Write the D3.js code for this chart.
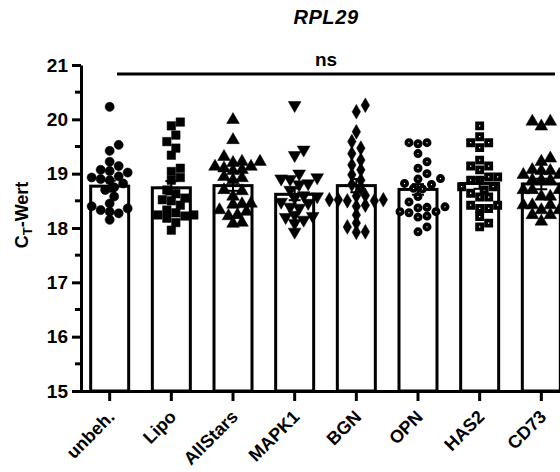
<!DOCTYPE html>
<html>
<head>
<meta charset="utf-8">
<script src="https://cdn.jsdelivr.net/npm/d3@7"></script>
<style>
  body { margin: 0; background: #fff; }
  svg { font-family: "Liberation Sans", Arial, sans-serif; }
</style>
</head>
<body>
<svg id="chart" width="560" height="472"></svg>
<script>
// categories and bar heights (means)
const groups = ["unbeh.", "Lipo", "AllStars", "MAPK1", "BGN", "OPN", "HAS2", "CD73"];
const means = [18.77, 18.74, 18.78, 18.62, 18.78, 18.71, 18.82, 18.81];

// individual Ct values per group
const unbeh = [20.23, 19.53, 19.42, 19.22, 19.14, 19.07, 19.05, 19.02, 18.95, 18.93, 18.9, 18.88, 18.82, 18.75, 18.7, 18.58, 18.45, 18.4, 18.36, 18.33, 18.3, 18.27, 18.15];
const lipo = [19.95, 19.88, 19.71, 19.59, 19.47, 19.34, 19.1, 19.04, 18.93, 18.88, 18.7, 18.63, 18.55, 18.52, 18.5, 18.42, 18.33, 18.28, 18.24, 18.24, 18.22, 18.18, 18.1, 17.96];
const allStars = [19.99, 19.62, 19.31, 19.22, 19.22, 19.2, 19.13, 19.13, 19.1, 19.07, 19.05, 18.94, 18.92, 18.88, 18.7, 18.68, 18.58, 18.45, 18.44, 18.43, 18.33, 18.3, 18.24, 18.22, 18.1, 18.08];
const mapk1 = [20.26, 19.44, 19.34, 19.0, 18.93, 18.91, 18.9, 18.82, 18.8, 18.7, 18.6, 18.58, 18.56, 18.48, 18.46, 18.39, 18.37, 18.24, 18.22, 18.2, 18.15, 18.09, 17.93];
const bgn = [20.26, 20.14, 19.77, 19.59, 19.47, 19.37, 19.25, 19.16, 19.07, 18.98, 18.88, 18.8, 18.73, 18.6, 18.59, 18.52, 18.52, 18.52, 18.5, 18.5, 18.42, 18.4, 18.24, 18.09, 18.02, 17.93, 17.92];
const opn = [19.57, 19.57, 19.55, 19.37, 19.22, 19.1, 19.0, 18.91, 18.9, 18.82, 18.8, 18.73, 18.72, 18.58, 18.48, 18.39, 18.38, 18.37, 18.3, 18.3, 18.28, 18.22, 18.2, 18.02, 17.93];
const has2 = [19.88, 19.68, 19.57, 19.57, 19.48, 19.25, 19.14, 19.14, 19.07, 18.94, 18.94, 18.88, 18.88, 18.76, 18.76, 18.7, 18.64, 18.57, 18.57, 18.42, 18.42, 18.36, 18.36, 18.21, 18.09, 18.02];
const cd73 = [19.96, 19.96, 19.87, 19.28, 19.22, 19.07, 19.07, 19.05, 19.05, 18.98, 18.98, 18.88, 18.88, 18.88, 18.7, 18.7, 18.7, 18.58, 18.58, 18.42, 18.42, 18.42, 18.33, 18.33, 18.24, 18.24, 18.12];

const values = [unbeh, lipo, allStars, mapk1, bgn, opn, has2, cd73];
const markers = ["circle", "square", "triangle", "triangleDown", "diamond", "ringCircle", "ringSquare", "triangle"];

const yTicks = [15, 16, 17, 18, 19, 20, 21];

const svg = d3.select("#chart");

const y = d3.scaleLinear().domain([15, 21]).range([391, 65]);
const x = d3.scaleBand().domain(groups).range([81, 570]).paddingInner(0.37).paddingOuter(0.15);
const xc = d => x(d) + x.bandwidth() / 2;
const barW = 38;

// title
svg.append("text")
    .attr("x", 326).attr("y", 24)
    .attr("text-anchor", "middle")
    .attr("font-size", 20).attr("font-weight", "bold").attr("font-style", "italic")
    .attr("letter-spacing", 0.6)
    .text("RPL29");

// bars
svg.append("g").selectAll("rect")
    .data(groups)
    .join("rect")
    .attr("x", d => xc(d) - barW / 2)
    .attr("y", (d, i) => y(means[i]))
    .attr("width", barW)
    .attr("height", (d, i) => y(15) - y(means[i]))
    .attr("fill", "#fff")
    .attr("stroke", "#000")
    .attr("stroke-width", 3);

// beeswarm layout: place each point at the nearest free horizontal offset
function swarm(vals, cx, r) {
    const sorted = vals.slice().sort((a, b) => a - b);
    const placed = [];
    const step = r * 1.0;
    sorted.forEach(v => {
        const py = y(v);
        let chosen = 0;
        for (let k = 0; k < 40; k++) {
            const off = k === 0 ? 0 : (k % 2 === 1 ? 1 : -1) * Math.ceil(k / 2) * step;
            const ok = placed.every(p => Math.hypot(p.x - (cx + off), p.y - py) >= 2 * r * 0.9);
            if (ok) { chosen = off; break; }
        }
        placed.push({ x: cx + chosen, y: py });
    });
    return placed;
}

const r = 4.5;
const symbolMap = {
    circle: d3.symbolCircle,
    square: d3.symbolSquare,
    triangle: d3.symbolTriangle,
    triangleDown: d3.symbolTriangle,
    diamond: d3.symbolDiamond,
    ringCircle: d3.symbolCircle,
    ringSquare: d3.symbolSquare
};
const symbolSize = {
    circle: 66, square: 72, triangle: 70, triangleDown: 70, diamond: 62, ringCircle: 21, ringSquare: 26
};

groups.forEach((g, i) => {
    const pts = swarm(values[i], xc(g), r);
    const m = markers[i];
    const gen = d3.symbol().type(symbolMap[m]).size(symbolSize[m]);
    const ring = m === "ringCircle" || m === "ringSquare";
    svg.append("g").selectAll("path")
        .data(pts)
        .join("path")
        .attr("d", gen)
        .attr("transform", d => `translate(${d.x},${d.y})` + (m === "triangleDown" ? " rotate(180)" : ""))
        .attr("fill", ring ? "#fff" : "#000")
        .attr("stroke", "#000")
        .attr("stroke-width", ring ? 3.8 : 0.5);
});

// error bars (SEM) on top
const errG = svg.append("g");
groups.forEach((g, i) => {
    const sem = d3.deviation(values[i]) / Math.sqrt(values[i].length);
    const cx = xc(g);
    errG.append("line")
        .attr("x1", cx).attr("x2", cx)
        .attr("y1", y(means[i] - sem)).attr("y2", y(means[i] + sem))
        .attr("stroke", "#000").attr("stroke-width", 2);
    [means[i] - sem, means[i] + sem].forEach(v => {
        errG.append("line")
            .attr("x1", cx - 6).attr("x2", cx + 6)
            .attr("y1", y(v)).attr("y2", y(v))
            .attr("stroke", "#000").attr("stroke-width", 2);
    });
});

// y axis
const yAxis = svg.append("g")
    .attr("transform", "translate(81,0)")
    .call(d3.axisLeft(y).tickValues(yTicks).tickSize(9).tickSizeOuter(0).tickFormat(d3.format("d")));
yAxis.select(".domain").attr("stroke-width", 3);
yAxis.selectAll(".tick line").attr("stroke-width", 3);
yAxis.selectAll(".tick text")
    .attr("x", -13)
    .attr("font-size", 19).attr("font-weight", "bold").attr("fill", "#000")
    .attr("font-family", "Liberation Sans, Arial, sans-serif");

// minor ticks
svg.append("g").selectAll("line")
    .data(d3.range(15.5, 21, 1))
    .join("line")
    .attr("x1", 75).attr("x2", 81)
    .attr("y1", d => y(d)).attr("y2", d => y(d))
    .attr("stroke", "#000").attr("stroke-width", 3);

// x axis
const xAxis = svg.append("g")
    .attr("transform", "translate(0,391)")
    .call(d3.axisBottom(x).tickSize(10).tickSizeOuter(0).tickFormat(""));
xAxis.select(".domain").attr("d", "M79.5,0.5H560").attr("stroke-width", 3);
xAxis.selectAll(".tick line").attr("stroke-width", 3);

svg.append("g").selectAll("text")
    .data(groups)
    .join("text")
    .attr("transform", d => `translate(${xc(d) + 6},${418}) rotate(-45)`)
    .attr("text-anchor", "end")
    .attr("font-size", 18).attr("font-weight", "bold")
    .text(d => d);

// y label with subscript
const yl = svg.append("text")
    .attr("transform", "translate(28,215) rotate(-90)")
    .attr("text-anchor", "middle")
    .attr("font-size", 18).attr("font-weight", "bold");
yl.append("tspan").text("C");
yl.append("tspan").attr("font-size", 13).attr("dy", 4).text("T");
yl.append("tspan").attr("dy", -4).text("-Wert");

// significance line
svg.append("line")
    .attr("x1", 117).attr("x2", 555)
    .attr("y1", 74).attr("y2", 74)
    .attr("stroke", "#000").attr("stroke-width", 3);
svg.append("text")
    .attr("x", 326).attr("y", 66)
    .attr("text-anchor", "middle")
    .attr("font-size", 19).attr("font-weight", "bold")
    .text("ns");
</script>
</body>
</html>
